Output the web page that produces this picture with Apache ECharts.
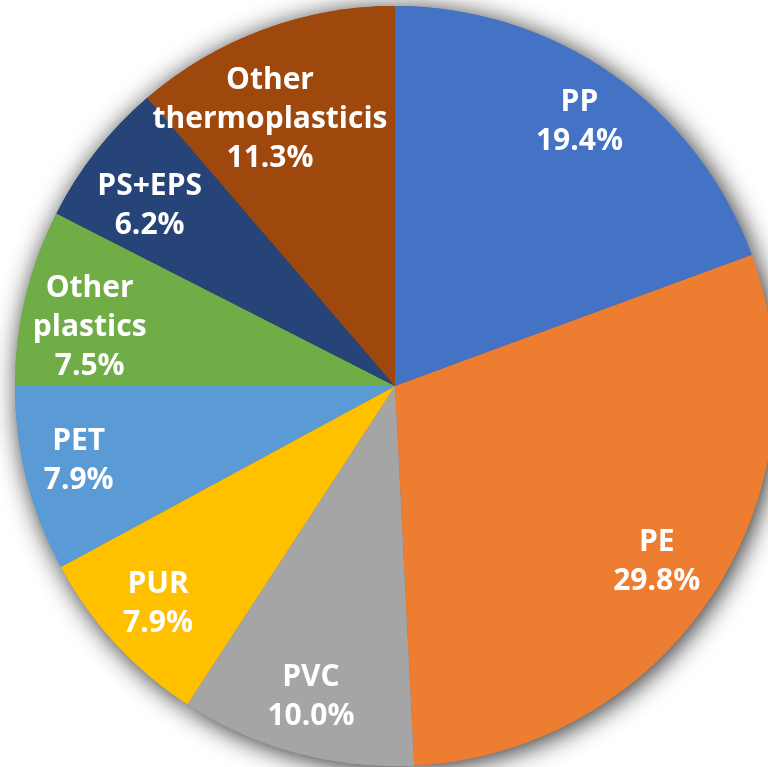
<!DOCTYPE html>
<html>
<head>
<meta charset="utf-8">
<script src="https://cdn.jsdelivr.net/npm/echarts@6/dist/echarts.min.js"></script>
<style>
  html, body { margin: 0; padding: 0; background: #fff; }
  #myChart { width: 768px; height: 767px; }
</style>
</head>
<body>
<div id="myChart"></div>
<script>
  // plastics share, clockwise from 12 o'clock
  var names = ['PP', 'PE', 'PVC', 'PUR', 'PET', 'Other\nplastics', 'PS+EPS', 'Other\nthermoplasticis'];
  var shares = [19.4, 29.8, 10.0, 7.9, 7.9, 7.5, 6.2, 11.3];
  var colors = ['#4472C4', '#ED7D31', '#A5A5A5', '#FFC000', '#5B9BD5', '#70AD47', '#264478', '#9E480E'];

  var center = [395, 386];
  var R = 380;

  // small label nudges, like Excel's best-fit placement
  var nudge = {
    'PE': [-7, -2],
    'PET': [-4, -4],
    'Other\nplastics': [8, 17],
    'PS+EPS': [8, 19],
    'Other\nthermoplasticis': [-13, 36]
  };

  var pieData = names.map(function (n, i) {
    return { name: n, value: shares[i] };
  });
  var labelData = names.map(function (n, i) {
    return { name: n, value: shares[i], label: { offset: nudge[n] || [0, 0] } };
  });

  var myChart = echarts.init(document.getElementById('myChart'));
  myChart.setOption({
    animation: false,
    color: colors,
    series: [
      {
        // shadow layer underneath
        type: 'pie',
        silent: true,
        z: 1,
        center: center,
        radius: [0, R],
        startAngle: 90,
        clockwise: true,
        label: { show: false },
        labelLine: { show: false },
        itemStyle: {
          shadowBlur: 26,
          shadowColor: 'rgba(0,0,0,0.85)',
          shadowOffsetX: 3,
          shadowOffsetY: 3
        },
        data: pieData
      },
      {
        type: 'pie',
        silent: true,
        z: 2,
        center: center,
        radius: [0, R],
        startAngle: 90,
        clockwise: true,
        label: { show: false },
        labelLine: { show: false },
        itemStyle: { borderWidth: 0 },
        data: pieData
      },
      {
        // transparent ring that only carries the labels
        type: 'pie',
        silent: true,
        z: 3,
        center: center,
        radius: [R * 0.68, R],
        startAngle: 90,
        clockwise: true,
        avoidLabelOverlap: false,
        itemStyle: { color: 'transparent' },
        labelLine: { show: false },
        label: {
          show: true,
          position: 'inside',
          color: '#fff',
          fontFamily: 'Open Sans',
          fontWeight: 'bold',
          fontSize: 30,
          lineHeight: 39,
          formatter: function (p) {
            return p.name + '\n' + p.value.toFixed(1) + '%';
          }
        },
        labelLayout: { hideOverlap: false },
        data: labelData
      }
    ]
  });
</script>
</body>
</html>
